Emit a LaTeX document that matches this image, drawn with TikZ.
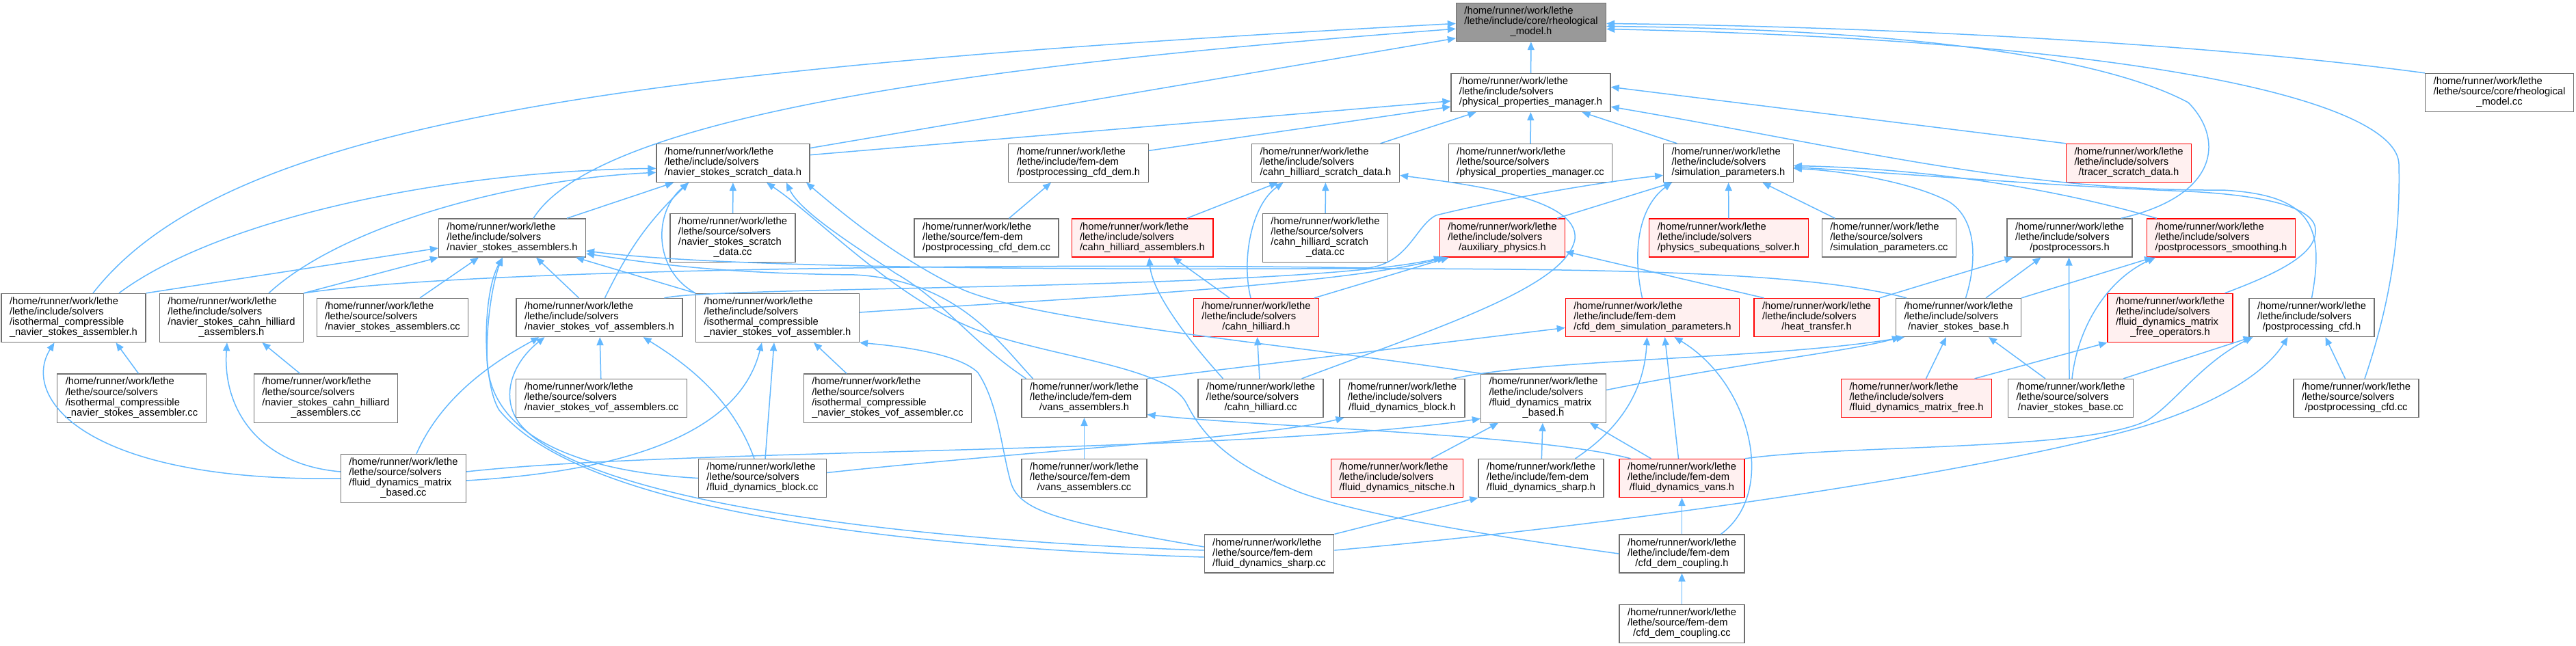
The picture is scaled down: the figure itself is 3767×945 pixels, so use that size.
\documentclass[tikz,border=0pt]{standalone}
\usepackage{fontspec}
\setmainfont{Liberation Sans}
\usetikzlibrary{arrows.meta}
\definecolor{edgeblue}{HTML}{63B8FF}
\definecolor{boxgray}{HTML}{707070}
\definecolor{hotred}{HTML}{FF0000}
\definecolor{hotbg}{HTML}{FFF0F0}
\definecolor{rootgray}{HTML}{999999}
\newcommand\flab[2]{\begin{tabular}{@{}l@{}}/home/runner/work/lethe\\#1\\\multicolumn{1}{@{}c@{}}{#2}\end{tabular}}
\tikzset{
  file/.style={rectangle,draw=boxgray,fill=white,line width=1.2pt,
    inner xsep=12pt,inner ysep=5.4pt,font=\fontsize{14.75pt}{14.7pt}\selectfont},
  filer/.style={file,draw=hotred,fill=hotbg},
  filek/.style={file,fill=rootgray},
  dep/.style={draw=edgeblue,line width=1.5pt,-{Triangle[length=12pt,width=10pt]}},
}
\begin{document}
\begin{tikzpicture}[x=1pt,y=-1pt]
  \useasboundingbox (0,0) rectangle (3767,945);
  % files
  \node[filek] (root) at (2239,32.5) {\flab{/lethe/include/core/rheological}{\_model.h}};
  \node[file] (rmcc) at (3655,135.5) {\flab{/lethe/source/core/rheological}{\_model.cc}};
  \node[file] (ppm) at (2238.5,135.5) {\flab{/lethe/include/solvers}{/physical\_properties\_manager.h}};
  \node[file] (nssd) at (1072,238.5) {\flab{/lethe/include/solvers}{/navier\_stokes\_scratch\_data.h}};
  \node[file] (pcdh) at (1577,238.5) {\flab{/lethe/include/fem-dem}{/postprocessing\_cfd\_dem.h}};
  \node[file] (chsd) at (1938.5,238.5) {\flab{/lethe/include/solvers}{/cahn\_hilliard\_scratch\_data.h}};
  \node[file] (ppmcc) at (2238,238.5) {\flab{/lethe/source/solvers}{/physical\_properties\_manager.cc}};
  \node[file] (simp) at (2527.5,238.5) {\flab{/lethe/include/solvers}{/simulation\_parameters.h}};
  \node[filer] (tsd) at (3113,238.5) {\flab{/lethe/include/solvers}{/tracer\_scratch\_data.h}};
  \node[file] (nssdcc) at (1071.5,348) {\flab{/lethe/source/solvers\\/navier\_stokes\_scratch}{\_data.cc}};
  \node[file] (chsdcc) at (1938,348) {\flab{/lethe/source/solvers\\/cahn\_hilliard\_scratch}{\_data.cc}};
  \node[file] (nsa) at (749,348) {\flab{/lethe/include/solvers}{/navier\_stokes\_assemblers.h}};
  \node[file] (pcdcc) at (1442.5,348) {\flab{/lethe/source/fem-dem}{/postprocessing\_cfd\_dem.cc}};
  \node[filer] (cha) at (1670.5,348) {\flab{/lethe/include/solvers}{/cahn\_hilliard\_assemblers.h}};
  \node[filer] (aux) at (2197,348) {\flab{/lethe/include/solvers}{/auxiliary\_physics.h}};
  \node[filer] (pss) at (2528,348) {\flab{/lethe/include/solvers}{/physics\_subequations\_solver.h}};
  \node[file] (simpcc) at (2762.5,348) {\flab{/lethe/source/solvers}{/simulation\_parameters.cc}};
  \node[file] (pp) at (3026.5,348) {\flab{/lethe/include/solvers}{/postprocessors.h}};
  \node[filer] (pps) at (3248,348) {\flab{/lethe/include/solvers}{/postprocessors\_smoothing.h}};
  \node[file] (icnsa) at (107.5,465) {\flab{/lethe/include/solvers\\/isothermal\_compressible}{\_navier\_stokes\_assembler.h}};
  \node[file] (nscha) at (338.5,465) {\flab{/lethe/include/solvers\\/navier\_stokes\_cahn\_hilliard}{\_assemblers.h}};
  \node[file] (icnsvofa) at (1137,465) {\flab{/lethe/include/solvers\\/isothermal\_compressible}{\_navier\_stokes\_vof\_assembler.h}};
  \node[filer] (fdmfo) at (3173.5,465) {\flab{/lethe/include/solvers\\/fluid\_dynamics\_matrix}{\_free\_operators.h}};
  \node[file] (nsacc) at (574,464.5) {\flab{/lethe/source/solvers}{/navier\_stokes\_assemblers.cc}};
  \node[file] (nsvofa) at (876.5,464.5) {\flab{/lethe/include/solvers}{/navier\_stokes\_vof\_assemblers.h}};
  \node[filer] (ch) at (1837,464.5) {\flab{/lethe/include/solvers}{/cahn\_hilliard.h}};
  \node[filer] (cdsp) at (2416.5,464.5) {\flab{/lethe/include/fem-dem}{/cfd\_dem\_simulation\_parameters.h}};
  \node[filer] (ht) at (2656.5,464.5) {\flab{/lethe/include/solvers}{/heat\_transfer.h}};
  \node[file] (nsb) at (2864,464.5) {\flab{/lethe/include/solvers}{/navier\_stokes\_base.h}};
  \node[file] (pcfd) at (3380.5,464.5) {\flab{/lethe/include/solvers}{/postprocessing\_cfd.h}};
  \node[file] (icnsacc) at (192.5,582.5) {\flab{/lethe/source/solvers\\/isothermal\_compressible}{\_navier\_stokes\_assembler.cc}};
  \node[file] (nschacc) at (476.5,582.5) {\flab{/lethe/source/solvers\\/navier\_stokes\_cahn\_hilliard}{\_assemblers.cc}};
  \node[file] (icnsvofacc) at (1298,582.5) {\flab{/lethe/source/solvers\\/isothermal\_compressible}{\_navier\_stokes\_vof\_assembler.cc}};
  \node[file] (fdmb) at (2257,582.5) {\flab{/lethe/include/solvers\\/fluid\_dynamics\_matrix}{\_based.h}};
  \node[file] (nsvofacc) at (879.5,582.5) {\flab{/lethe/source/solvers}{/navier\_stokes\_vof\_assemblers.cc}};
  \node[file] (vansa) at (1585.5,582.5) {\flab{/lethe/include/fem-dem}{/vans\_assemblers.h}};
  \node[file] (chcc) at (1843.5,582.5) {\flab{/lethe/source/solvers}{/cahn\_hilliard.cc}};
  \node[file] (fdb) at (2050.5,582.5) {\flab{/lethe/include/solvers}{/fluid\_dynamics\_block.h}};
  \node[filer] (fdmf) at (2802.5,582.5) {\flab{/lethe/include/solvers}{/fluid\_dynamics\_matrix\_free.h}};
  \node[file] (nsbcc) at (3028,582.5) {\flab{/lethe/source/solvers}{/navier\_stokes\_base.cc}};
  \node[file] (pcfdcc) at (3445.5,582.5) {\flab{/lethe/source/solvers}{/postprocessing\_cfd.cc}};
  \node[file] (fdmbcc) at (590,700) {\flab{/lethe/source/solvers\\/fluid\_dynamics\_matrix}{\_based.cc}};
  \node[file] (fdbcc) at (1115,699.5) {\flab{/lethe/source/solvers}{/fluid\_dynamics\_block.cc}};
  \node[file] (vansacc) at (1585.5,699.5) {\flab{/lethe/source/fem-dem}{/vans\_assemblers.cc}};
  \node[filer] (fdn) at (2043,699.5) {\flab{/lethe/include/solvers}{/fluid\_dynamics\_nitsche.h}};
  \node[file] (fds) at (2253.5,699.5) {\flab{/lethe/include/fem-dem}{/fluid\_dynamics\_sharp.h}};
  \node[filer] (fdv) at (2459.5,699.5) {\flab{/lethe/include/fem-dem}{/fluid\_dynamics\_vans.h}};
  \node[file] (fdscc) at (1856,810) {\flab{/lethe/source/fem-dem}{/fluid\_dynamics\_sharp.cc}};
  \node[file] (cdc) at (2459.5,810) {\flab{/lethe/include/fem-dem}{/cfd\_dem\_coupling.h}};
  \node[file] (cdccc) at (2459.5,912.5) {\flab{/lethe/source/fem-dem}{/cfd\_dem\_coupling.cc}};
  % includes, straight
  \foreach \a/\b in {ppm/root,ppmcc/ppm,nssdcc/nssd,chsdcc/chsd,pss/simp,nsvofacc/nsvofa,
    vansacc/vansa,chcc/ch,fds/fdmb,cdc/fdv,cdccc/cdc} \draw[dep] (\a)--(\b);
  \draw[dep] (nssd.11) -- (root.192);
  \draw[dep] (nssd.6) -- (ppm.186);
  \draw[dep] (pcdh.10) -- (ppm.190);
  \draw[dep] ([xshift=80pt]chsd.north) -- ([xshift=-80pt]ppm.south);
  \draw[dep] ([xshift=-75pt]simp.north) -- ([xshift=75pt]ppm.south);
  \draw[dep] (tsd.north west) -- (ppm.4);
  \draw[dep] ([xshift=80pt]nsa.north) -- ([xshift=-87pt]nssd.south);
  \draw[dep] ([xshift=8pt]nsvofa.north) to[bend left=10] ([xshift=-65pt]nssd.south);
  \draw[dep] (icnsa.north east) -- ([yshift=-15pt]nsa.west);
  \draw[dep] (nscha.north east) -- (nsa.south west);
  \draw[dep] ([xshift=40pt]nsacc.north) -- ([xshift=-49pt]nsa.south);
  \draw[dep] ([xshift=-30pt]nsvofa.north) -- ([xshift=35pt]nsa.south);
  \draw[dep] (icnsvofa.north west) -- ([xshift=93pt]nsa.south);
  \draw[dep] ([xshift=10pt]icnsacc.north) -- ([xshift=62pt]icnsa.south);
  \draw[dep] ([xshift=-38pt]nschacc.north) -- ([xshift=45pt]nscha.south);
  \draw[dep] ([xshift=-60pt]icnsvofacc.north) -- ([xshift=53pt]icnsvofa.south);
  \draw[dep] ([xshift=4pt]fdbcc.north) -- ([xshift=-5pt]icnsvofa.south);
  \draw[dep] ([xshift=-39pt]ch.north) -- ([xshift=45pt]cha.south);
  \draw[dep] ([xshift=65pt]cha.north) -- ([xshift=-70pt]chsd.south);
  \draw[dep] ([xshift=85pt]ch.north) -- ([xshift=14pt]aux.south west);
  \draw[dep] ([xshift=80pt]aux.north) -- ([xshift=-82pt]simp.south);
  \draw[dep] ([xshift=-77pt]ht.north) -- ([yshift=-20pt]aux.east);
  \draw[dep] ([xshift=-79pt]simpcc.north) -- ([xshift=50pt]simp.south);
  \draw[dep] (ht.north east) -- ([xshift=-83pt]pp.south);
  \draw[dep] ([xshift=40pt]nsb.north) -- ([xshift=-42pt]pp.south);
  \draw[dep] ([xshift=-2pt]nsbcc.north) -- ([xshift=-1pt]pp.south);
  \draw[dep] (nsb.north east) -- ([xshift=-100pt]pps.south);
  \draw[dep] ([xshift=14pt]fdmf.north) -- ([xshift=-18pt]nsb.south);
  \draw[dep] ([xshift=-37pt]nsbcc.north) -- ([xshift=44pt]nsb.south);
  \draw[dep] ([xshift=85pt]fdmf.north) -- (fdmfo.south west);
  \draw[dep] ([xshift=-16pt]pcfdcc.north) -- ([xshift=20pt]pcfd.south);
  \draw[dep] ([xshift=77pt]nsbcc.north) -- ([xshift=-88pt]pcfd.south);
  \draw[dep] ([xshift=50pt]fdn.north) -- ([xshift=-66pt]fdmb.south);
  \draw[dep] ([xshift=-45pt]fdv.north) -- ([xshift=68pt]fdmb.south);
  \draw[dep] ([xshift=-5pt]fdv.north) -- ([xshift=18pt]cdsp.south);
  \draw[dep] (vansa.north east) -- ([yshift=-15pt]cdsp.west);
  \draw[dep] (fdscc.north east) -- (fds.south west);
  \draw[dep] ([xshift=33pt]pcdcc.north) -- ([xshift=-40pt]pcdh.south);
  % includes, curved
  \draw[dep] (rmcc.north west) .. controls (3200,60) and (2700,38) .. ([yshift=-2pt]root.east);
  \draw[dep] ([xshift=75pt]pp.north) .. controls (3250,285) and (3250,200) .. (3200,150)
    .. controls (3050,70) and (2700,42) .. ([yshift=-6pt]root.east);
  \draw[dep] ([xshift=12.5pt]pcfdcc.north) .. controls (3500,430) and (3510,330) .. (3508,240)
    .. controls (3505,150) and (3150,60) .. ([yshift=-10pt]root.east);
  \draw[dep] ([xshift=28.5pt]icnsa.north) .. controls (330,180) and (900,100) .. (root.181);
  \draw[dep] ([xshift=31pt]nsa.north) .. controls (880,160) and (1500,90) .. (root.185);
  \draw[dep] (pcfd.north) .. controls (3400,330) and (3380,285) .. (3250,278)
    .. controls (2950,280) and (2700,215) .. (ppm.350);
  \draw[dep] ([xshift=66.5pt]icnsa.north) .. controls (320,320) and (650,250) .. (nssd.184);
  \draw[dep] ([xshift=54.5pt]nscha.north) .. controls (500,330) and (750,262) .. (nssd.187);
  \draw[dep] (icnsvofa.north west) .. controls (955,395) and (955,310) .. ([xshift=-65pt]nssd.south);
  \draw[dep] (fdmb.north west) .. controls (1900,505) and (1500,470) .. (1400,420)
    .. controls (1300,370) and (1230,310) .. ([xshift=107pt]nssd.south);
  \draw[dep] ([xshift=-85pt]vansa.north) .. controls (1420,500) and (1380,440) .. (1310,400)
    .. controls (1250,360) and (1170,310) .. ([xshift=78pt]nssd.south);
  \draw[dep] (cdc.west) .. controls (2150,780) and (1980,750) .. (1900,720)
    .. controls (1800,680) and (1760,640) .. (1735,590)
    .. controls (1710,540) and (1560,525) .. (1450,490)
    .. controls (1320,450) and (1200,320) .. ([xshift=49pt]nssd.south);
  \draw[dep] (fdbcc.west) .. controls (850,690) and (712,640) .. (712,520)
    .. controls (712,450) and (725,400) .. ([xshift=-14pt]nsa.south);
  \draw[dep] ([yshift=-5pt]fdscc.west) .. controls (1300,800) and (850,745) .. (730,600)
    .. controls (705,560) and (705,430) .. ([xshift=-14pt]nsa.south);
  \draw[dep] ([xshift=-76pt]nsb.north) .. controls (2650,400) and (2400,392) .. (1900,393)
    .. controls (1300,395) and (1000,385) .. ([yshift=-19pt]nsa.east);
  \draw[dep] ([xshift=-75pt]vansa.north) .. controls (1460,500) and (1400,410) .. (1250,402)
    .. controls (1050,400) and (950,385) .. ([yshift=-23pt]nsa.east);
  \draw[dep] (fdmbcc.west) .. controls (120,705) and (30,580) .. ([xshift=-28pt]icnsa.south);
  \draw[dep] ([yshift=10pt]fdmbcc.west) .. controls (380,680) and (325,600) .. ([xshift=-6.5pt]nscha.south);
  \draw[dep] ([xshift=19pt]fdmbcc.north) .. controls (650,570) and (740,520) .. ([xshift=-88pt]nsvofa.south);
  \draw[dep] ([xshift=-12pt]fdbcc.north) .. controls (1070,580) and (1000,530) .. ([xshift=64pt]nsvofa.south);
  \draw[dep] ([yshift=5pt]fdscc.west) .. controls (1300,790) and (850,730) .. (760,620)
    .. controls (730,580) and (750,530) .. ([xshift=-80pt]nsvofa.south);
  \draw[dep] ([yshift=-3pt]fdmbcc.east) .. controls (900,690) and (1080,640) .. ([xshift=-23pt]icnsvofa.south);
  \draw[dep] ([yshift=10pt]fdscc.west) .. controls (1560,765) and (1490,750) .. (1478,705)
    .. controls (1465,660) and (1460,590) .. (1430,545)
    .. controls (1400,515) and (1300,505) .. (icnsvofa.south east);
  \draw[dep] ([xshift=-8pt]ch.north) .. controls (1815,380) and (1830,300) .. ([xshift=-62pt]chsd.south);
  \draw[dep] ([xshift=-55pt]chcc.north) .. controls (1740,500) and (1685,430) .. ([xshift=10pt]cha.south);
  \draw[dep] ([xshift=60pt]chcc.north) .. controls (2100,480) and (2290,420) .. (2303,350)
    .. controls (2310,290) and (2150,270) .. ([yshift=-18pt]chsd.east);
  \draw[dep] ([xshift=95pt]nsvofa.north) .. controls (1050,418) and (1900,425) .. ([xshift=4pt]aux.south west);
  \draw[dep] ([yshift=8pt]icnsvofa.east) .. controls (1500,440) and (1950,420) .. ([xshift=9pt]aux.south west);
  \draw[dep] (nscha.north east) .. controls (700,390) and (1600,385) .. (2000,392)
    .. controls (2060,385) and (2070,330) .. (2100,315)
    .. controls (2200,290) and (2350,265) .. ([yshift=-18pt]simp.west);
  \draw[dep] ([xshift=-15pt]cdsp.north) .. controls (2385,360) and (2400,300) .. ([xshift=-83pt]simp.south);
  \draw[dep] ([xshift=10.5pt]nsb.north) .. controls (2892,380) and (2890,320) .. (2850,295)
    .. controls (2800,268) and (2700,250) .. ([yshift=-8pt]simp.east);
  \draw[dep] ([xshift=-94pt]pps.north) .. controls (2950,260) and (2750,245) .. ([yshift=-4pt]simp.east);
  \draw[dep] ([xshift=80pt]fdmfo.north) .. controls (3330,400) and (3395,370) .. (3385,330)
    .. controls (3375,300) and (3300,285) .. (3200,280)
    .. controls (3000,272) and (2800,255) .. ([yshift=-6pt]simp.east);
  \draw[dep] ([xshift=2pt]nsbcc.north) .. controls (3038,480) and (3080,410) .. ([xshift=-96pt]pps.south);
  \draw[dep] ([yshift=12pt]fdmb.east) .. controls (2550,530) and (2700,515) .. ([xshift=-85pt]nsb.south);
  \draw[dep] ([xshift=75pt]fdb.north) .. controls (2250,525) and (2600,525) .. ([xshift=-79pt]nsb.south);
  \draw[dep] (fdv.north east) .. controls (2700,650) and (3050,660) .. (3140,615)
    .. controls (3180,590) and (3220,530) .. ([xshift=-86pt]pcfd.south);
  \draw[dep] ([yshift=5pt]fdscc.east) .. controls (2400,765) and (2900,690) .. (3130,625)
    .. controls (3230,595) and (3310,550) .. ([xshift=-35pt]pcfd.south);
  \draw[dep] ([yshift=10pt]fdmbcc.east) .. controls (1000,655) and (1800,665) .. ([yshift=-30pt]fdmb.west);
  \draw[dep] ([yshift=8pt]fdbcc.east) .. controls (1500,660) and (1850,640) .. ([xshift=-85pt]fdb.south);
  \draw[dep] ([xshift=-75pt]fdv.north) .. controls (2250,635) and (1850,625) .. ([yshift=-24pt]vansa.east);
  \draw[dep] ([xshift=50pt]fds.north) .. controls (2380,620) and (2405,560) .. ([xshift=-8pt]cdsp.south);
  \draw[dep] ([xshift=57pt]cdc.north) .. controls (2600,720) and (2560,560) .. ([xshift=32pt]cdsp.south);
\end{tikzpicture}
\end{document}
